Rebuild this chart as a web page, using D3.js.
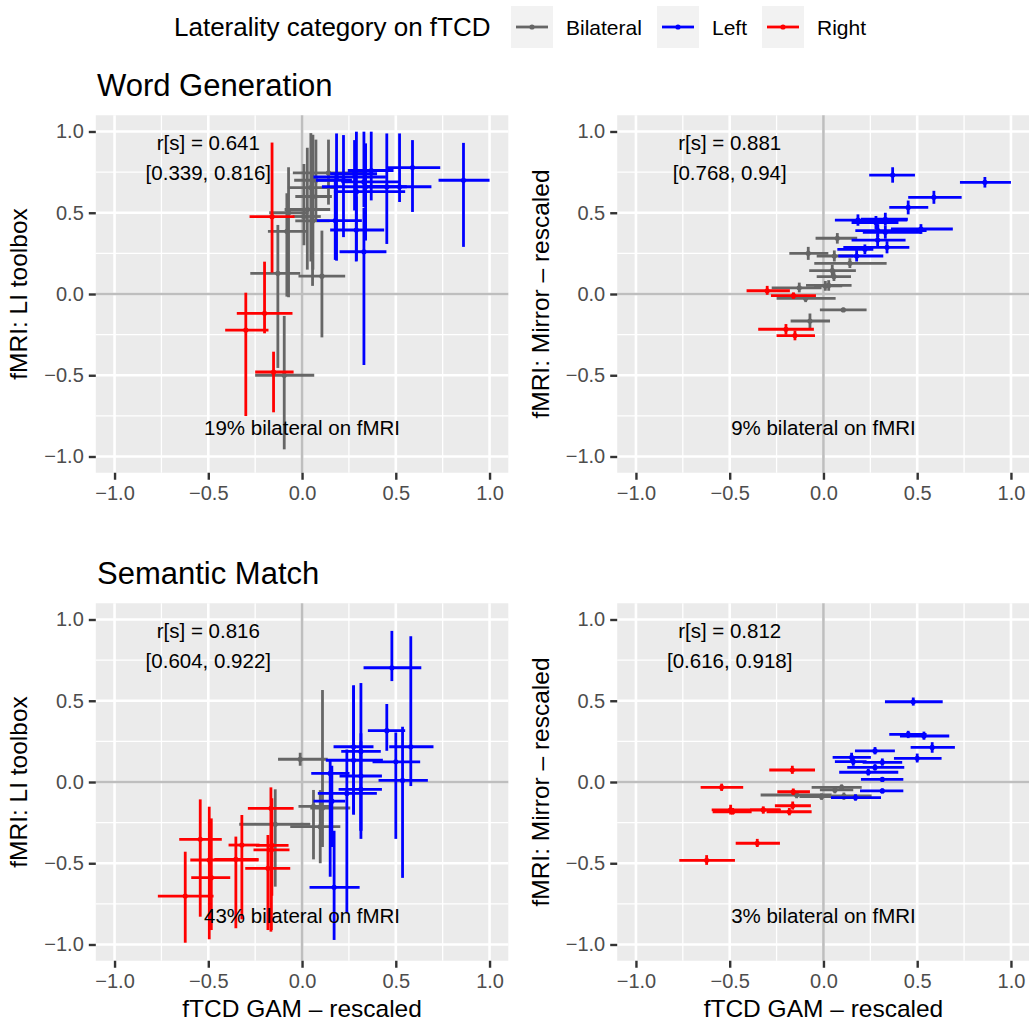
<!DOCTYPE html>
<html>
<head>
<meta charset="utf-8">
<script src="https://cdn.jsdelivr.net/npm/d3@7/dist/d3.min.js"></script>
<style>
  body { margin: 0; background: #fff; }
  svg { display: block; font-family: "Liberation Sans", Arial, Helvetica, sans-serif; }
</style>
</head>
<body>
<svg id="chart" width="1029" height="1022"></svg>
<script>
// ---- data ----
const categories = ['Bilateral', 'Left', 'Right'];
const tickValues = [-1, -0.5, 0, 0.5, 1];
const minorValues = [-0.75, -0.25, 0.25, 0.75];

// Word Generation: fTCD category, fTCD [estimate, lower, upper], LI toolbox and Mirror fMRI
const wgCategory = [
  'Bilateral', 'Bilateral', 'Bilateral', 'Bilateral', 'Bilateral', 'Bilateral',
  'Bilateral', 'Bilateral', 'Bilateral', 'Bilateral', 'Bilateral', 'Bilateral',
  'Left', 'Left', 'Left', 'Left', 'Left', 'Left', 'Left',
  'Left', 'Left', 'Left', 'Left', 'Left', 'Left', 'Left',
  'Right', 'Right', 'Right', 'Right'
];
const wgFtcd = [
  [0.074, -0.042, 0.18], [-0.081, -0.182, 0.026], [0.058, -0.036, 0.159], [0.141, -0.049, 0.337],
  [0.047, -0.076, 0.173], [0.056, -0.036, 0.147], [0.028, -0.093, 0.15], [-0.129, -0.276, -0.01],
  [0.01, -0.05, 0.10], [-0.095, -0.25, 0.065], [0.106, -0.019, 0.23], [-0.072, -0.175, 0.035],
  [0.369, 0.244, 0.488], [0.861, 0.728, 1.0], [0.589, 0.452, 0.737], [0.452, 0.351, 0.559],
  [0.184, 0.061, 0.447], [0.28, 0.15, 0.40], [0.33, 0.20, 0.45], [0.29, 0.17, 0.55],
  [0.33, 0.21, 0.52], [0.52, 0.36, 0.69], [0.289, 0.15, 0.438], [0.339, 0.106, 0.458],
  [0.221, 0.074, 0.266], [0.177, 0.079, 0.319],
  [-0.30, -0.41, -0.179], [-0.16, -0.28, -0.04], [-0.20, -0.348, -0.051], [-0.152, -0.25, -0.045]
];
const wgLi = [
  [0.70, 0.45, 0.95], [0.386, -0.016, 0.62], [0.60, 0.15, 0.98], [0.745, 0.55, 0.95],
  [0.655, 0.20, 0.99], [0.45, 0.05, 0.85], [0.52, 0.15, 0.90], [0.127, -0.455, 0.425],
  [0.477, 0.30, 0.80], [-0.50, -0.956, -0.135], [0.11, -0.267, 0.39], [0.50, -0.02, 0.78],
  [0.76, 0.576, 0.999], [0.70, 0.29, 0.93], [0.778, 0.505, 0.947], [0.66, 0.308, 0.988],
  [0.72, 0.205, 0.988], [0.74, 0.514, 0.947], [0.26, -0.437, 0.53], [0.63, 0.205, 0.999],
  [0.69, 0.535, 0.999], [0.66, 0.566, 0.988], [0.394, 0.20, 0.60], [0.66, 0.329, 0.927],
  [0.70, 0.35, 0.978], [0.452, 0.21, 0.70],
  [-0.222, -0.751, 0.008], [0.476, 0.132, 0.932], [-0.119, -0.242, 0.199], [-0.48, -0.728, -0.355]
];
const wgMirror = [
  [0.343, 0.31, 0.375], [0.25, 0.21, 0.29], [0.234, 0.20, 0.268], [0.189, 0.16, 0.22],
  [0.144, 0.11, 0.18], [0.107, 0.08, 0.135], [0.053, 0.02, 0.085], [0.038, 0.01, 0.07],
  [0.05, 0.02, 0.08], [-0.027, -0.05, -0.005], [-0.098, -0.11, -0.085], [-0.166, -0.21, -0.12],
  [0.732, 0.685, 0.78], [0.687, 0.655, 0.72], [0.595, 0.555, 0.635], [0.533, 0.49, 0.575],
  [0.455, 0.42, 0.49], [0.44, 0.40, 0.48], [0.46, 0.42, 0.50], [0.39, 0.35, 0.43],
  [0.38, 0.34, 0.42], [0.40, 0.37, 0.43], [0.332, 0.29, 0.37], [0.287, 0.25, 0.325],
  [0.275, 0.245, 0.305], [0.234, 0.20, 0.27],
  [0.02, -0.005, 0.05], [-0.01, -0.03, 0.01], [-0.217, -0.25, -0.185], [-0.256, -0.285, -0.225]
];
const wgStats = ['r[s] = 0.641', '[0.339, 0.816]', '19% bilateral on fMRI'];
const wgMirrorStats = ['r[s] = 0.881', '[0.768, 0.94]', '9% bilateral on fMRI'];

// Semantic Match
const smCategory = [
  'Bilateral', 'Bilateral', 'Bilateral', 'Bilateral', 'Bilateral',
  'Left', 'Left', 'Left', 'Left', 'Left', 'Left', 'Left',
  'Left', 'Left', 'Left', 'Left', 'Left', 'Left', 'Left',
  'Right', 'Right', 'Right', 'Right', 'Right', 'Right', 'Right', 'Right', 'Right', 'Right'
];
const smFtcd = [
  [0.097, -0.063, 0.204], [0.061, -0.019, 0.159], [-0.143, -0.335, 0.044], [-0.01, -0.128, 0.137],
  [0.109, 0.044, 0.257],
  [0.479, 0.328, 0.636], [0.452, 0.351, 0.55], [0.536, 0.408, 0.671], [0.58, 0.465, 0.701],
  [0.275, 0.168, 0.381], [0.50, 0.376, 0.63], [0.15, 0.049, 0.253], [0.159, 0.061, 0.23],
  [0.314, 0.209, 0.42], [0.275, 0.127, 0.431], [0.239, 0.084, 0.399], [0.314, 0.20, 0.426],
  [0.314, 0.195, 0.426], [0.171, 0.04, 0.307],
  [-0.166, -0.289, -0.045], [-0.543, -0.655, -0.428], [-0.161, -0.246, -0.072], [-0.164, -0.259, -0.067],
  [-0.495, -0.596, -0.232], [-0.484, -0.591, -0.383], [-0.321, -0.392, -0.227], [-0.182, -0.303, -0.063],
  [-0.353, -0.468, -0.232], [-0.623, -0.769, -0.472]
];
const smLi = [
  [-0.275, -0.50, -0.05], [-0.15, -0.476, -0.049], [-0.26, -0.644, -0.045], [0.14, 0.10, 0.18],
  [-0.16, -0.40, 0.566],
  [0.703, 0.621, 0.93], [0.316, 0.192, 0.48], [0.01, -0.59, 0.34], [0.217, -0.025, 0.897],
  [0.217, -0.20, 0.594], [0.124, -0.35, 0.305], [0.053, -0.583, 0.14], [-0.118, -0.40, 0.10],
  [0.188, -0.35, 0.609], [0.134, -0.20, 0.594], [-0.07, -0.808, 0.20], [0.037, -0.30, 0.30],
  [-0.045, -0.30, 0.25], [-0.648, -0.972, -0.30],
  [-0.162, -0.921, -0.033], [-0.353, -0.829, -0.107], [-0.39, -0.70, -0.10], [-0.418, -0.911, -0.316],
  [-0.48, -0.968, -0.152], [-0.589, -0.911, -0.224], [-0.388, -0.845, -0.203], [-0.531, -0.911, -0.326],
  [-0.476, -0.90, -0.336], [-0.702, -0.989, -0.429]
];
const smMirror = [
  [-0.033, -0.05, -0.015], [-0.049, -0.07, -0.03], [-0.08, -0.10, -0.06], [-0.09, -0.11, -0.07],
  [-0.086, -0.11, -0.065],
  [0.494, 0.47, 0.52], [0.293, 0.27, 0.315], [0.283, 0.26, 0.31], [0.213, 0.18, 0.245],
  [0.191, 0.17, 0.215], [0.146, 0.12, 0.175], [0.152, 0.12, 0.18], [0.125, 0.10, 0.15],
  [0.121, 0.10, 0.145], [0.09, 0.07, 0.11], [0.06, 0.04, 0.08], [0.016, 0.0, 0.03],
  [-0.055, -0.07, -0.04], [-0.096, -0.115, -0.075],
  [0.074, 0.05, 0.10], [-0.033, -0.055, -0.01], [-0.06, -0.08, -0.04], [-0.146, -0.17, -0.12],
  [-0.172, -0.2, -0.14], [-0.183, -0.2, -0.16], [-0.172, -0.195, -0.15], [-0.183, -0.205, -0.16],
  [-0.377, -0.40, -0.35], [-0.482, -0.51, -0.45]
];
const smStats = ['r[s] = 0.816', '[0.604, 0.922]', '43% bilateral on fMRI'];
const smMirrorStats = ['r[s] = 0.812', '[0.616, 0.918]', '3% bilateral on fMRI'];

// ---- layout ----
const svg = d3.select('#chart');
const colour = d3.scaleOrdinal().domain(categories).range(['#666666', '#0000FF', '#FF0000']);
const panelW = 412.5, panelH = 357.5;
const colLeft = [95.8, 617.2];
const rowTop = [115.25, 603.25];
const lineW = 2.8;

function drawPanel(left, top, cats, ftcd, fmri, stats, yTitle, showXTitle) {
  const x = d3.scaleLinear().domain([-1.1, 1.1]).range([left, left + panelW]);
  const y = d3.scaleLinear().domain([-1.1, 1.1]).range([top + panelH, top]);
  const g = svg.append('g');

  g.append('rect')
    .attr('x', left).attr('y', top)
    .attr('width', panelW).attr('height', panelH)
    .attr('fill', '#EBEBEB');

  // grid
  const grid = [
    { vals: minorValues, w: 1.3 },
    { vals: tickValues, w: 2.6 }
  ];
  grid.forEach(gr => {
    g.selectAll(null).data(gr.vals).enter().append('line')
      .attr('x1', d => x(d)).attr('x2', d => x(d))
      .attr('y1', top).attr('y2', top + panelH)
      .attr('stroke', '#fff').attr('stroke-width', gr.w);
    g.selectAll(null).data(gr.vals).enter().append('line')
      .attr('y1', d => y(d)).attr('y2', d => y(d))
      .attr('x1', left).attr('x2', left + panelW)
      .attr('stroke', '#fff').attr('stroke-width', gr.w);
  });

  // zero reference lines
  g.append('line')
    .attr('x1', x(0)).attr('x2', x(0)).attr('y1', top).attr('y2', top + panelH)
    .attr('stroke', '#BEBEBE').attr('stroke-width', 2.6);
  g.append('line')
    .attr('x1', left).attr('x2', left + panelW).attr('y1', y(0)).attr('y2', y(0))
    .attr('stroke', '#BEBEBE').attr('stroke-width', 2.6);

  // annotations
  g.append('text')
    .attr('x', x(-0.5)).attr('y', y(0.93))
    .attr('text-anchor', 'middle').attr('dominant-baseline', 'central')
    .attr('font-size', 20.5).text(stats[0]);
  g.append('text')
    .attr('x', x(-0.5)).attr('y', y(0.75))
    .attr('text-anchor', 'middle').attr('dominant-baseline', 'central')
    .attr('font-size', 20.5).text(stats[1]);

  // error crosses
  const rows = ftcd.map((f, i) => ({ cat: cats[i], f: f, m: fmri[i] }));
  const sub = g.selectAll('.subj').data(rows).enter().append('g').attr('class', 'subj');
  sub.append('line')
    .attr('x1', d => x(d.f[1])).attr('x2', d => x(d.f[2]))
    .attr('y1', d => y(d.m[0])).attr('y2', d => y(d.m[0]))
    .attr('stroke', d => colour(d.cat)).attr('stroke-width', lineW);
  sub.append('line')
    .attr('x1', d => x(d.f[0])).attr('x2', d => x(d.f[0]))
    .attr('y1', d => y(d.m[1])).attr('y2', d => y(d.m[2]))
    .attr('stroke', d => colour(d.cat)).attr('stroke-width', lineW);
  sub.append('circle')
    .attr('cx', d => x(d.f[0])).attr('cy', d => y(d.m[0]))
    .attr('r', 2.6).attr('fill', d => colour(d.cat));

  g.append('text')
    .attr('x', x(0)).attr('y', y(-0.82))
    .attr('text-anchor', 'middle').attr('dominant-baseline', 'central')
    .attr('font-size', 20.5).text(stats[2]);

  // axes
  const xAxis = g.append('g')
    .attr('transform', `translate(0,${top + panelH})`)
    .call(d3.axisBottom(x).tickValues(tickValues).tickSize(7).tickPadding(6).tickFormat(d3.format('.1f')));
  const yAxis = g.append('g')
    .attr('transform', `translate(${left},0)`)
    .call(d3.axisLeft(y).tickValues(tickValues).tickSize(7).tickPadding(5).tickFormat(d3.format('.1f')));
  [xAxis, yAxis].forEach(a => {
    a.select('.domain').remove();
    a.selectAll('line').attr('stroke', '#333333').attr('stroke-width', 2.4);
    a.selectAll('text').attr('fill', '#4D4D4D').attr('font-size', 20)
      .attr('font-family', '"Liberation Sans", Arial, Helvetica, sans-serif');
  });

  g.append('text')
    .attr('transform', `translate(${left - 77},${top + panelH / 2}) rotate(-90)`)
    .attr('text-anchor', 'middle').attr('dominant-baseline', 'central')
    .attr('font-size', 24.5).text(yTitle);

  if (showXTitle) {
    g.append('text')
      .attr('x', x(0)).attr('y', 1008)
      .attr('text-anchor', 'middle').attr('dominant-baseline', 'central')
      .attr('font-size', 24.5).text('fTCD GAM \u2013 rescaled');
  }
}

drawPanel(colLeft[0], rowTop[0], wgCategory, wgFtcd, wgLi, wgStats, 'fMRI: LI toolbox', false);
drawPanel(colLeft[1], rowTop[0], wgCategory, wgFtcd, wgMirror, wgMirrorStats, 'fMRI: Mirror \u2013 rescaled', false);
drawPanel(colLeft[0], rowTop[1], smCategory, smFtcd, smLi, smStats, 'fMRI: LI toolbox', true);
drawPanel(colLeft[1], rowTop[1], smCategory, smFtcd, smMirror, smMirrorStats, 'fMRI: Mirror \u2013 rescaled', true);

// plot titles
svg.append('text').attr('x', 97).attr('y', 96).attr('font-size', 31).text('Word Generation');
svg.append('text').attr('x', 97).attr('y', 584).attr('font-size', 31).text('Semantic Match');

// legend
const legend = svg.append('g');
legend.append('text')
  .attr('x', 174).attr('y', 27).attr('dominant-baseline', 'central')
  .attr('font-size', 26).text('Laterality category on fTCD');
const keyX = [511, 657, 762];
const keyItems = legend.selectAll('.key').data(categories).enter().append('g').attr('class', 'key')
  .attr('transform', (d, i) => `translate(${keyX[i]},6)`);
keyItems.append('rect').attr('width', 42).attr('height', 42).attr('fill', '#F2F2F2');
keyItems.append('line').attr('x1', 5).attr('x2', 37).attr('y1', 21).attr('y2', 21)
  .attr('stroke', d => colour(d)).attr('stroke-width', lineW);
keyItems.append('circle').attr('cx', 21).attr('cy', 21).attr('r', 2.6).attr('fill', d => colour(d));
keyItems.append('text').attr('x', 55).attr('y', 21).attr('dominant-baseline', 'central')
  .attr('font-size', 21).text(d => d);
</script>
</body>
</html>
